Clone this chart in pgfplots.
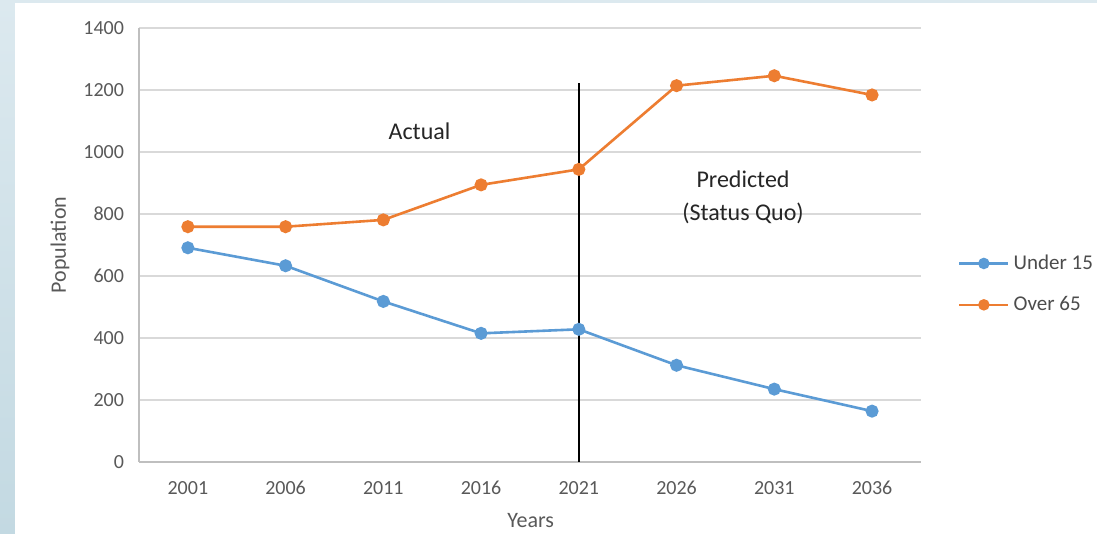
\documentclass[border=0pt]{standalone}
\usepackage{pgfplots}
\pgfplotsset{compat=1.18}
\usepackage{fontspec}
\setmainfont{Carlito}

\definecolor{serblue}{HTML}{5B9BD5}
\definecolor{serorange}{HTML}{ED7D31}
\definecolor{gridgray}{HTML}{D9D9D9}
\definecolor{axisgray}{HTML}{BFBFBF}
\definecolor{labgray}{HTML}{595959}
\definecolor{frameA}{HTML}{DCE9EF}
\definecolor{frameB}{HTML}{C3D9E2}

\begin{document}
\begin{tikzpicture}
  % page frame: pale blue border behind a white panel (axis box starts at the origin)
  \shade[top color=frameA, bottom color=frameB] (-69.5pt,-36pt) rectangle (479pt,231pt);
  \fill[white] (-62pt,-36pt) rectangle (479pt,229.5pt);

  \begin{axis}[
    anchor=south west,
    scale only axis, width=391pt, height=217pt,
    xmin=-0.5, xmax=7.5, ymin=0, ymax=1400,
    xtick={0,...,7},
    xticklabels={2001,2006,2011,2016,2021,2026,2031,2036},
    ytick={0,200,...,1400},
    ymajorgrids, grid style={gridgray, line width=0.6pt},
    major tick length=0pt,
    axis x line*=bottom, axis y line*=left,
    axis line style={axisgray, line width=0.6pt},
    /pgf/number format/assume math mode=true,
    /pgf/number format/1000 sep={},
    tick label style={font=\fontsize{10}{12}\selectfont, text=labgray},
    xticklabel style={yshift=-6pt},
    yticklabel style={xshift=-4pt},
    xlabel={Years}, ylabel={Population},
    label style={font=\fontsize{11}{13}\selectfont, text=labgray},
    xlabel style={at={(axis description cs:0.501,-0.136)}, anchor=center},
    ylabel style={at={(axis description cs:-0.101,0.5)}, anchor=center},
    legend style={draw=none, fill=none, at={(1.047,0.41)}, anchor=west,
      font=\fontsize{10.5}{12}\selectfont, text=black!70, inner sep=0pt,
      row sep=8pt, cells={anchor=west, inner xsep=0.5pt}},
    legend cell align=left,
    legend image code/.code={
      \draw[#1, mark size=2.2pt, mark repeat=2, mark phase=2]
        plot coordinates {(0pt,0pt) (12.25pt,0pt) (24.5pt,0pt)};
    },
    every axis plot/.append style={line width=1.3pt},
  ]
    % dividing line between recorded and projected years
    \addplot[black, line width=1.2pt, forget plot] coordinates {(4,0) (4,1222)};

    \addplot[serblue, mark=*, mark size=2.6pt] coordinates {
      (0,691) (1,633) (2,518) (3,415) (4,428) (5,312) (6,235) (7,164)
    };
    \addlegendentry{Under 15}

    \addplot[serorange, mark=*, mark size=2.6pt] coordinates {
      (0,759) (1,759) (2,781) (3,894) (4,944) (5,1214) (6,1246) (7,1184)
    };
    \addlegendentry{Over 65}

    \node[font=\fontsize{12}{14}\selectfont, text=black!85] at (axis cs:2.37,1068) {Actual};
    \node[font=\fontsize{12}{14}\selectfont, text=black!85] at (axis cs:5.68,913) {Predicted};
    \node[font=\fontsize{12}{14}\selectfont, text=black!85] at (axis cs:5.68,803) {(Status Quo)};
  \end{axis}
\end{tikzpicture}
\end{document}
